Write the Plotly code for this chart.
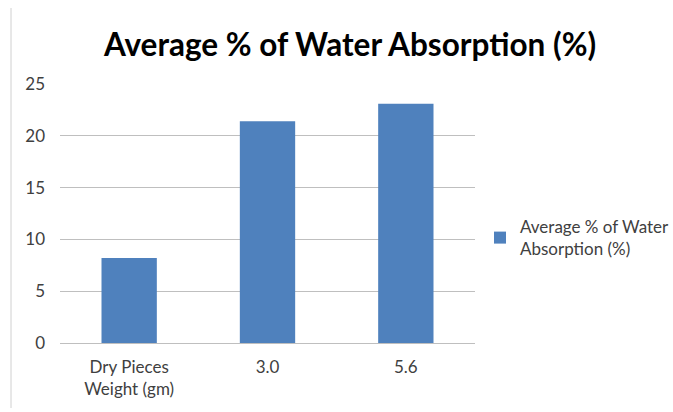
import plotly.graph_objects as go

categories = ["Dry Pieces<br>Weight (gm)", "3.0", "5.6"]
absorption = [8.2, 21.4, 23.1]
series_name = "Average % of Water<br>Absorption (%)"
y_ticks = [0, 5, 10, 15, 20, 25]

W, H = 673, 412
L, R, T, B = 60, 198, 84, 69
plot_w = W - L - R
plot_h = H - T - B

fig = go.Figure()
fig.add_trace(go.Bar(
    x=categories,
    y=absorption,
    name=series_name,
    marker=dict(color="#4F81BD", line=dict(width=0)),
    showlegend=True,
))

fig.update_layout(
    width=W,
    height=H,
    margin=dict(l=L, r=R, t=T, b=B, autoexpand=False),
    paper_bgcolor="white",
    plot_bgcolor="white",
    bargap=0.6,
    title=dict(
        text="<b>Average % of Water Absorption (%)</b>",
        x=350 / W,
        xanchor="center",
        y=1 - 45 / H,
        yanchor="middle",
        font=dict(family="Lato", size=31.5, color="#000000"),
    ),
    font=dict(family="Lato", size=17, color="#404040"),
    legend=dict(
        x=(480 - L) / plot_w,
        xanchor="left",
        y=(343 - 238) / plot_h,
        yanchor="middle",
        font=dict(family="Lato", size=17, color="#404040"),
        itemwidth=30,
        bgcolor="rgba(0,0,0,0)",
    ),
    xaxis=dict(
        showgrid=False,
        showline=False,
        ticks="",
        ticklabelstandoff=12,
        tickfont=dict(size=17, color="#404040"),
    ),
    yaxis=dict(
        range=[0, 25],
        tickvals=y_ticks,
        showgrid=True,
        gridcolor="#BFBFBF",
        gridwidth=1,
        zeroline=True,
        zerolinecolor="#BFBFBF",
        zerolinewidth=1,
        showline=False,
        ticks="",
        ticklabelstandoff=14,
        tickfont=dict(size=17, color="#404040"),
    ),
)

# thin frame line along the left edge of the chart area
fig.add_shape(
    type="line",
    xref="paper", yref="paper",
    x0=(11 - L) / plot_w, x1=(11 - L) / plot_w,
    y0=-(B - 4) / plot_h, y1=(plot_h + T - 8) / plot_h,
    line=dict(color="#D0D0D0", width=1),
)

fig.write_html("out.html")
